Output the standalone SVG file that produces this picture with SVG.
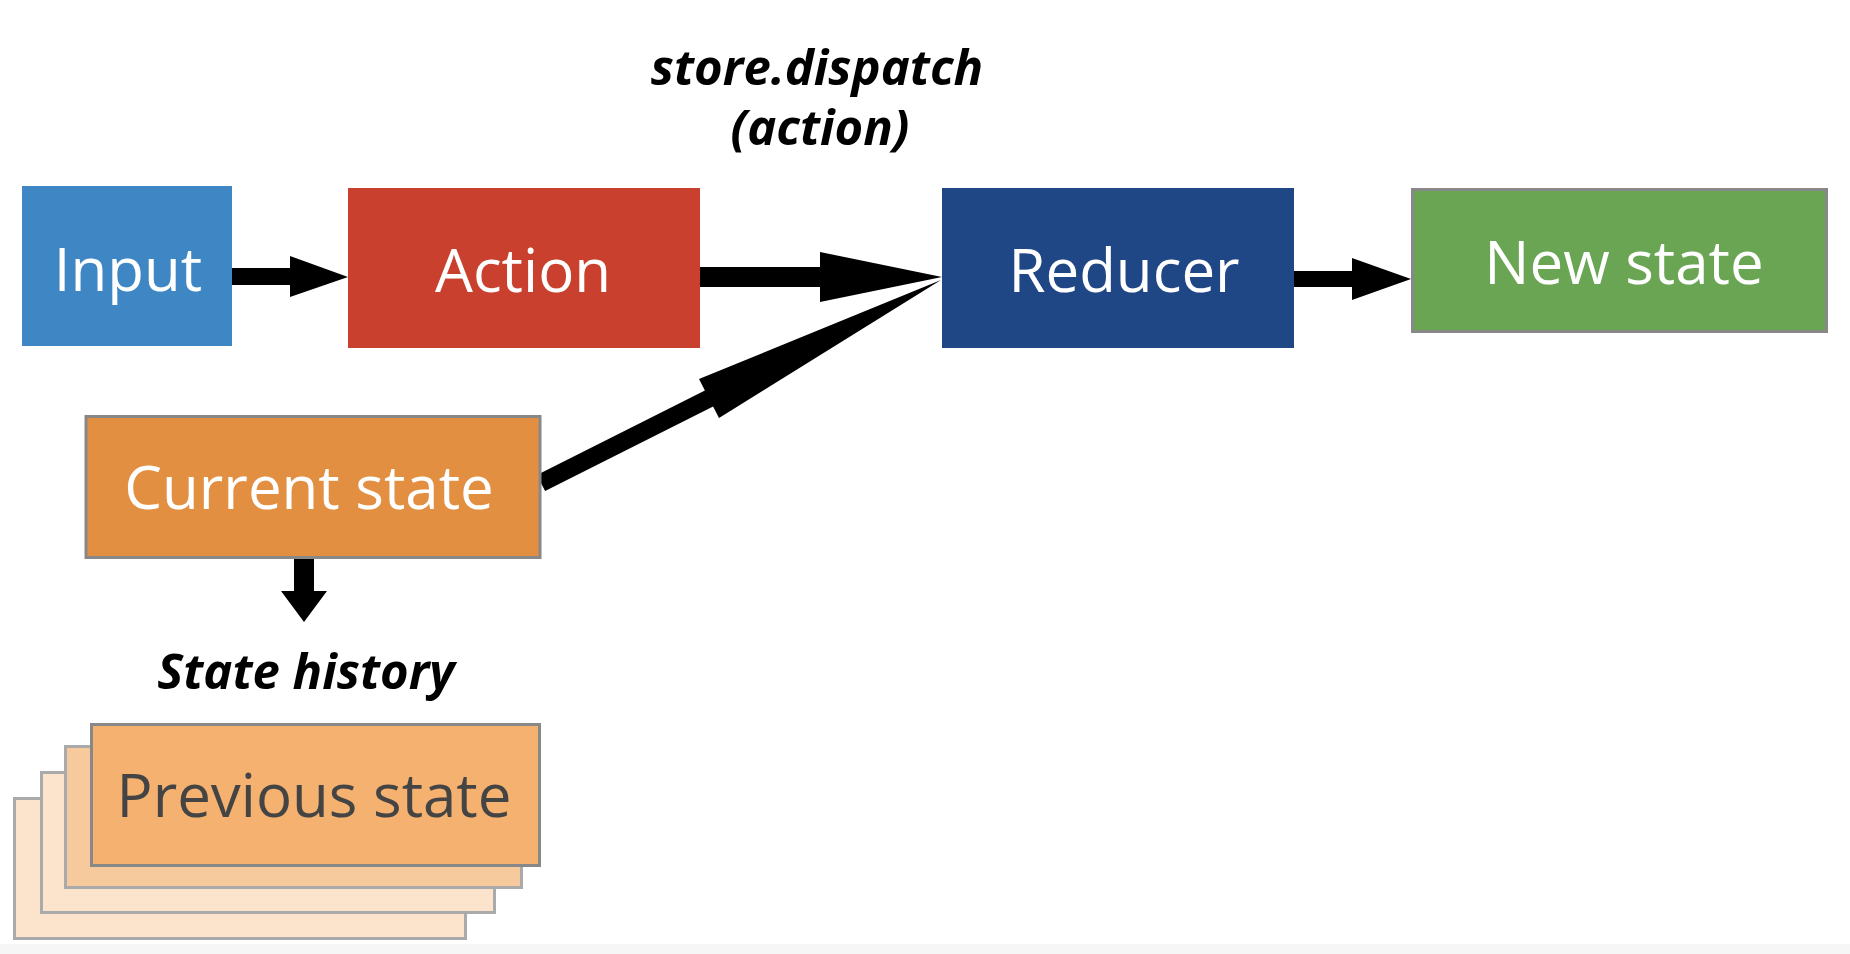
<svg xmlns="http://www.w3.org/2000/svg" width="1850" height="954" viewBox="0 0 1850 954">
<style>
.lbl{font-family:"Open Sans","Noto Sans","DejaVu Sans",sans-serif;font-size:60px;fill:#ffffff;text-anchor:middle}
.dark{fill:#444444}
.note{font-family:"Open Sans","Noto Sans","DejaVu Sans",sans-serif;font-size:49px;font-weight:bold;font-style:italic;fill:#000000;text-anchor:middle}
.arrow{fill:#000000}
.gs{stroke:#888888;stroke-width:3}
.ls{stroke:#aaaaaa;stroke-width:3}
</style>
<rect x="0" y="0" width="1850" height="954" fill="#ffffff"/>
<rect x="0" y="944" width="1850" height="10" fill="#f6f6f6"/>
<g id="connectors">
<path class="arrow" d="M232,268 L290,268 L290,256 L348,277 L290,297 L290,285 L232,285 Z"/>
<path class="arrow" d="M700,267 L820,267 L820,252 L942,277 L820,302 L820,287 L700,287 Z"/>
<path class="arrow" d="M1294,271 L1352,271 L1352,258 L1411,279 L1352,300 L1352,287 L1294,287 Z"/>
<path class="arrow" d="M536.9,475 L704.9,390.5 L699,379 L941,280 L719,418 L713.1,406.5 L545.1,491 Z"/>
<path class="arrow" d="M294,556 L314,556 L314,591 L327,591 L304,622 L281,591 L294,591 Z"/>
</g>
<g id="label-dispatch">
<text class="note" x="817" y="85">store.dispatch</text>
<text class="note" x="820" y="145">(action)</text>
</g>
<g id="node-input">
<rect x="22" y="186" width="210" height="160" fill="#3f86c4"/>
<text class="lbl" x="128" y="291">Input</text>
</g>
<g id="node-action">
<rect x="348" y="188" width="352" height="160" fill="#c9412e"/>
<text class="lbl" x="523" y="292">Action</text>
</g>
<g id="node-reducer">
<rect x="942" y="188" width="352" height="160" fill="#204785"/>
<text class="lbl" x="1124" y="292">Reducer</text>
</g>
<g id="node-newstate">
<rect x="1412.5" y="189.5" width="414" height="142" fill="#6aa553" class="gs"/>
<text class="lbl" x="1624" y="284">New state</text>
</g>
<g id="node-currentstate">
<rect x="86" y="416.5" width="454" height="141" fill="#e28f42" class="gs"/>
<text class="lbl" x="309" y="509">Current state</text>
</g>
<g id="label-history">
<text class="note" x="306" y="689">State history</text>
</g>
<g id="node-history">
<rect x="14.5" y="798.5" width="451" height="140" fill="#fce4cc" class="ls"/>
<rect x="41.5" y="772.5" width="453" height="140" fill="#fce4cc" class="ls"/>
<rect x="65.5" y="746.5" width="456" height="141" fill="#f7ca9e" class="ls"/>
<rect x="91.5" y="724.5" width="448" height="141" fill="#f4b16f" class="gs"/>
<text class="lbl dark" x="314" y="817">Previous state</text>
</g>
</svg>
